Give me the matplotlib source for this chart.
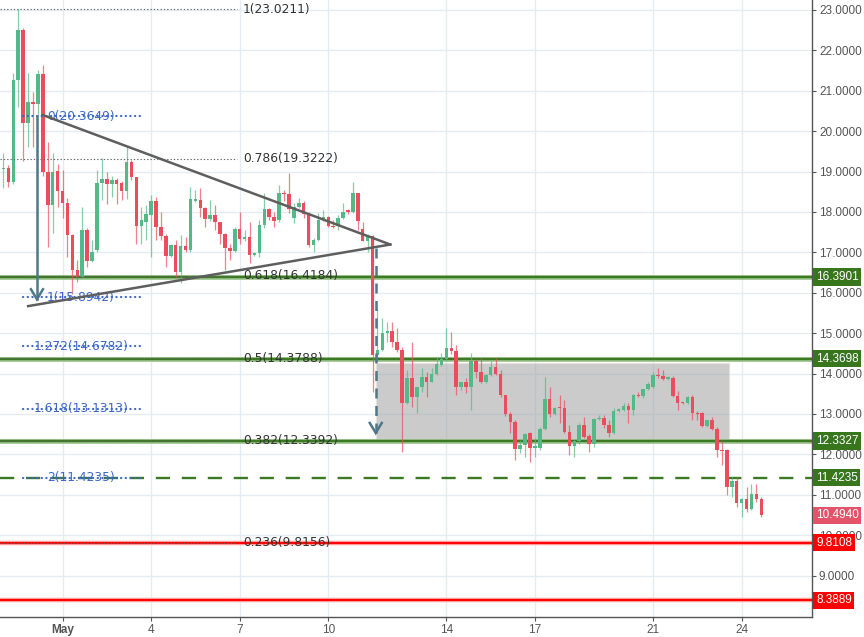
import numpy as np
import pandas as pd
import matplotlib
matplotlib.use("Agg")
import matplotlib.pyplot as plt
from matplotlib.patches import Rectangle

# 4h candles from 29 Apr 00:00
start = "2018-04-29 00:00"

opens = [19.07, 19.08, 18.75, 21.27, 22.50, 20.21, 20.73, 20.67, 21.42, 19.00, 18.17, 19.02,
         18.53, 18.23, 17.43, 16.56, 16.40, 17.55, 16.79, 17.05, 18.73, 18.81, 18.69, 18.79,
         18.73, 18.51, 19.23, 18.86, 17.65, 17.76, 17.93, 18.27, 17.64, 17.41, 16.91, 17.18,
         16.52, 17.16, 17.05, 18.28, 18.30, 18.09, 17.82, 17.93, 17.74, 17.45, 17.10, 17.03,
         17.57, 17.32, 17.38, 16.94, 16.99, 17.68, 18.07, 17.88, 17.79, 18.46, 18.44, 17.84,
         18.13, 18.23, 17.95, 17.18, 17.31, 17.80, 17.88, 17.65, 17.66, 17.84, 18.05, 17.99,
         18.47, 17.57, 17.29, 17.41, 14.46, 14.58, 15.00, 15.06, 14.79, 14.58, 13.28, 13.90,
         13.41, 13.66, 13.92, 13.80, 14.00, 14.22, 14.35, 14.63, 14.57, 13.66, 13.78, 13.66,
         14.32, 14.05, 13.80, 13.97, 14.16, 14.00, 13.47, 13.00, 12.79, 12.13, 12.24, 12.52,
         12.17, 12.17, 12.64, 13.36, 13.00, 13.16, 13.15, 12.56, 12.21, 12.33, 12.72, 12.45,
         12.25, 12.87, 12.90, 12.72, 12.52, 13.07, 13.10, 13.20, 13.10, 13.48, 13.44, 13.61,
         13.67, 13.97, 13.95, 13.87, 13.90, 13.45, 13.28, 13.27, 13.42, 13.03, 13.02, 12.70,
         12.84, 12.64, 12.11, 12.11, 11.19, 11.33, 10.79, 10.89, 10.66, 11.02, 10.90]
highs = [19.45, 19.16, 21.43, 23.0211, 22.55, 21.43, 20.98, 21.51, 21.64, 19.74, 19.45, 19.20,
         19.04, 18.34, 17.45, 16.81, 18.13, 17.60, 17.30, 19.04, 19.33, 19.00, 18.88, 18.85,
         18.77, 19.62, 19.29, 18.87, 18.13, 18.17, 18.42, 18.38, 18.01, 17.45, 17.22, 17.31,
         17.43, 17.39, 18.63, 18.55, 18.59, 18.12, 18.30, 18.17, 17.76, 17.47, 17.22, 17.64,
         18.01, 17.55, 17.76, 17.02, 17.80, 18.46, 18.10, 18.01, 18.67, 18.55, 18.96, 18.22,
         18.34, 18.28, 17.99, 17.35, 17.97, 18.05, 17.90, 17.80, 17.92, 18.22, 18.08, 18.75,
         18.48, 17.76, 17.45, 17.43, 15.62, 15.37, 15.28, 15.28, 15.12, 14.67, 14.09, 14.79,
         13.68, 14.13, 14.05, 14.13, 14.40, 14.50, 15.12, 15.04, 14.71, 13.80, 13.88, 14.50,
         14.36, 14.38, 14.00, 14.30, 14.38, 14.09, 13.47, 13.04, 12.85, 12.36, 12.52, 12.56,
         12.40, 12.69, 13.92, 13.68, 13.17, 13.47, 13.35, 12.73, 12.35, 12.77, 12.93, 12.50,
         12.89, 12.98, 12.98, 12.85, 13.14, 13.15, 13.26, 13.26, 13.50, 13.55, 13.63, 13.80,
         14.05, 14.13, 14.09, 13.93, 13.94, 13.57, 13.30, 13.45, 13.48, 13.07, 13.04, 12.86,
         12.93, 12.69, 12.32, 12.13, 11.45, 11.45, 10.91, 11.20, 11.27, 11.27, 10.95]
lows = [18.59, 18.63, 18.70, 20.61, 19.25, 19.62, 19.62, 20.40, 18.90, 17.14, 17.48, 18.13,
        17.84, 16.89, 15.98, 16.27, 16.38, 16.65, 16.75, 17.00, 18.30, 18.20, 18.38, 18.21,
        18.30, 18.31, 18.80, 17.22, 17.22, 17.31, 16.89, 17.31, 17.31, 16.65, 16.88, 16.40,
        16.24, 17.02, 17.00, 18.25, 17.88, 17.64, 17.78, 17.55, 17.22, 16.56, 16.81, 17.00,
        17.20, 17.28, 16.73, 16.90, 16.89, 17.60, 17.80, 17.64, 17.75, 18.26, 17.97, 17.72,
        18.10, 17.84, 17.13, 17.02, 17.29, 17.78, 17.62, 17.60, 17.55, 17.82, 17.96, 17.97,
        17.55, 17.27, 17.02, 13.55, 14.40, 14.55, 14.79, 14.67, 14.54, 12.07, 13.25, 13.18,
        13.02, 13.55, 13.43, 13.78, 13.97, 14.20, 14.30, 14.49, 13.47, 13.60, 13.51, 13.10,
        13.88, 13.76, 13.76, 13.94, 13.97, 13.43, 12.95, 12.52, 11.86, 12.03, 11.94, 11.82,
        11.94, 12.11, 12.60, 12.93, 12.97, 12.77, 12.53, 11.99, 11.94, 12.26, 12.40, 12.07,
        12.19, 12.85, 12.65, 12.44, 12.50, 13.05, 13.08, 12.77, 12.98, 13.42, 13.39, 13.59,
        13.65, 13.90, 13.85, 13.85, 13.43, 13.11, 13.24, 13.25, 12.85, 12.85, 12.68, 12.68,
        12.60, 11.94, 11.74, 10.99, 10.95, 10.71, 10.46, 10.58, 10.62, 10.83, 10.46]
closes = [19.10, 18.75, 21.27, 22.50, 20.21, 20.73, 20.67, 21.42, 19.00, 18.17, 19.00, 18.53,
          18.23, 17.43, 16.56, 16.40, 17.55, 16.79, 17.00, 18.73, 18.81, 18.69, 18.79, 18.69,
          18.51, 19.23, 18.86, 17.65, 17.80, 17.95, 18.27, 17.64, 17.41, 16.91, 17.18, 16.52,
          17.16, 17.05, 18.32, 18.32, 18.09, 17.82, 17.93, 17.74, 17.45, 17.10, 17.03, 17.57,
          17.32, 17.38, 16.94, 16.99, 17.68, 18.07, 17.88, 17.78, 18.46, 18.44, 18.07, 18.13,
          18.23, 17.95, 17.18, 17.31, 17.80, 17.88, 17.65, 17.62, 17.84, 18.01, 17.99, 18.46,
          17.78, 17.29, 17.43, 14.46, 14.58, 15.00, 15.06, 14.79, 14.58, 13.28, 13.90, 13.41,
          13.66, 13.92, 13.80, 14.00, 14.24, 14.35, 14.63, 14.57, 13.66, 13.78, 13.66, 14.32,
          14.05, 13.80, 13.97, 14.16, 14.00, 13.47, 13.00, 12.79, 12.13, 12.24, 12.50, 12.17,
          12.18, 12.62, 13.36, 13.00, 13.15, 13.14, 12.56, 12.21, 12.33, 12.72, 12.42, 12.25,
          12.87, 12.90, 12.72, 12.52, 13.07, 13.12, 13.20, 13.10, 13.48, 13.44, 13.61, 13.74,
          13.97, 13.93, 13.87, 13.91, 13.45, 13.27, 13.26, 13.42, 13.03, 13.00, 12.70, 12.84,
          12.64, 12.11, 12.09, 11.19, 11.33, 10.79, 10.89, 10.66, 11.02, 10.90, 10.494]

tick_days = ["2018-05-01", "2018-05-04", "2018-05-07", "2018-05-10",
             "2018-05-14", "2018-05-17", "2018-05-21", "2018-05-24"]

# fib retracement (23.0211 -> down) and fib extension levels
retr_levels = ["1", "0.786", "0.618", "0.5", "0.382", "0.236"]
retr_prices = [23.0211, 19.3222, 16.4184, 14.3788, 12.3392, 9.8156]
ext_levels = ["0", "1", "1.272", "1.618", "2"]
ext_prices = [20.3649, 15.8942, 14.6782, 13.1313, 11.4235]

# horizontal levels
green_solid = [16.3901, 14.3698, 12.3327]
green_dash = 11.4235
red_solid = [9.8108, 8.3889]
last_price = 10.4940

# drawing anchors (bar index, price)
tri_upper = ([8.0, 78.6], [20.40, 17.195])
tri_lower = ([5.0, 78.6], [15.67, 17.195])
arrow1 = (6.8, 20.3649, 15.84)
arrow2 = (75.65, 17.11, 12.53)
box_x = (75.65, 147.5)
box_y = (12.374, 14.255)

UP = "#53b987"
DOWN = "#eb4d5c"
GREEN = "#3b7a23"
ARROW = "#4f7888"
BLUE = "#3d68c9"

o = np.array(opens); h = np.array(highs); l = np.array(lows); c = np.array(closes)
n = len(o)
x = np.arange(n)
dates = pd.date_range(start, periods=n, freq="4h")

fig = plt.figure(figsize=(8.64, 6.37), dpi=100)
ax = fig.add_axes([0, 20 / 637, 812 / 864, 617 / 637])
ax.set_xlim(-0.71, 164.3)
ax.set_ylim(7.975, 23.2475)

# grid + axes
tick_pos = [dates.get_loc(pd.Timestamp(d)) for d in tick_days]
ax.set_xticks(tick_pos)
ax.set_xticklabels(["May" if pd.Timestamp(d).day == 1 else str(pd.Timestamp(d).day) for d in tick_days])
ax.get_xticklabels()[0].set_fontweight("bold")
ax.set_yticks(range(9, 24))
ax.set_yticklabels([f"{v:.4f}" for v in range(9, 24)])
ax.yaxis.tick_right()
ax.grid(True, color="#e4ecf1", lw=1, zorder=0)
ax.set_axisbelow(True)
for s in ["left", "top"]:
    ax.spines[s].set_visible(False)
for s in ["right", "bottom"]:
    ax.spines[s].set_color("#555555")
    ax.spines[s].set_linewidth(1)
ax.tick_params(axis="both", colors="#555555", length=3, width=0.8, pad=2,
               labelsize=8.5, labelcolor="#555555")
for t in ax.get_xticklabels() + ax.get_yticklabels():
    t.set_family("Liberation Sans")

# gray box
ax.add_patch(Rectangle((box_x[0], box_y[0]), box_x[1] - box_x[0], box_y[1] - box_y[0],
                       facecolor=(0.6, 0.6, 0.6), alpha=0.5, edgecolor="#e9dcd6", lw=1, zorder=1))

# horizontal lines
for p in green_solid:
    ax.axhline(p, color="#9cc48c", lw=3.4, zorder=2)
    ax.axhline(p, color=GREEN, lw=1.7, zorder=2)
ax.axhline(green_dash, color=GREEN, lw=1.7, ls=(0, (6, 5)), zorder=2)
for p in red_solid:
    ax.axhline(p, color="#ff9c9c", lw=3.2, zorder=2)
    ax.axhline(p, color="#ff0000", lw=1.4, zorder=2)

# candles
colors = np.where(c >= o, UP, DOWN)
ax.vlines(x, l, h, colors=colors, lw=0.9, alpha=0.7, zorder=3)
body_lo = np.minimum(o, c)
body_h = np.maximum(np.abs(c - o), 0.03)
ax.bar(x, body_h, bottom=body_lo, width=0.72, color=colors, lw=0, zorder=4)

# fib retracement
for lev, p in zip(retr_levels, retr_prices):
    ax.plot([-0.71, 47.5], [p, p], color="#666666", lw=0.8, ls=(0, (1.2, 1.8)), zorder=5)
    ax.text(48.7, p, f"{lev}({p:.4f})", color="#333333", fontsize=8.8,
            va="center", ha="left", zorder=6)

# fib extension
for lev, p in zip(ext_levels, ext_prices):
    ax.plot([3.96, 27.7], [p, p], color=BLUE, lw=1.6, ls=(0, (0.1, 2.0)),
            dash_capstyle="round", zorder=5)
    ax.text(15.75, p, f"{lev}({p:.4f})", color=BLUE, fontsize=8.8,
            va="center", ha="center", zorder=6)

# triangle
ax.plot(*tri_upper, color="#5e5e5e", lw=1.8, zorder=6)
ax.plot(*tri_lower, color="#5e5e5e", lw=1.8, zorder=6)

# arrows (head in data units: 4.92 px per bar, 40.4 px per price unit)
def arrow(xa, y0, y1, dashed=False):
    ls = (0, (4, 3)) if dashed else "-"
    ax.plot([xa, xa], [y0, y1], color=ARROW, lw=1.8, ls=ls, zorder=7)
    dx, dy = 6 / 4.92, 10 / 40.4
    ax.plot([xa - dx, xa, xa + dx], [y1 + dy, y1, y1 + dy], color=ARROW, lw=1.8,
            solid_joinstyle="miter", zorder=7)

arrow(*arrow1)
arrow(*arrow2, dashed=True)

# price labels on the axis
ytr = ax.get_yaxis_transform()
labels = [(p, "#38761d") for p in green_solid] + [(green_dash, "#38761d"),
          (last_price, "#e3536a")] + [(p, "#ff0000") for p in red_solid]
for p, col in labels:
    ax.text(1 + 4 / 812, p, f"{p:.4f}", transform=ytr, color="white", fontsize=8.5,
            family="Liberation Sans", va="center", ha="left", clip_on=False, zorder=10,
            bbox=dict(boxstyle="square,pad=0.22", fc=col, ec="none"))

fig.savefig("out.png", dpi=100)
